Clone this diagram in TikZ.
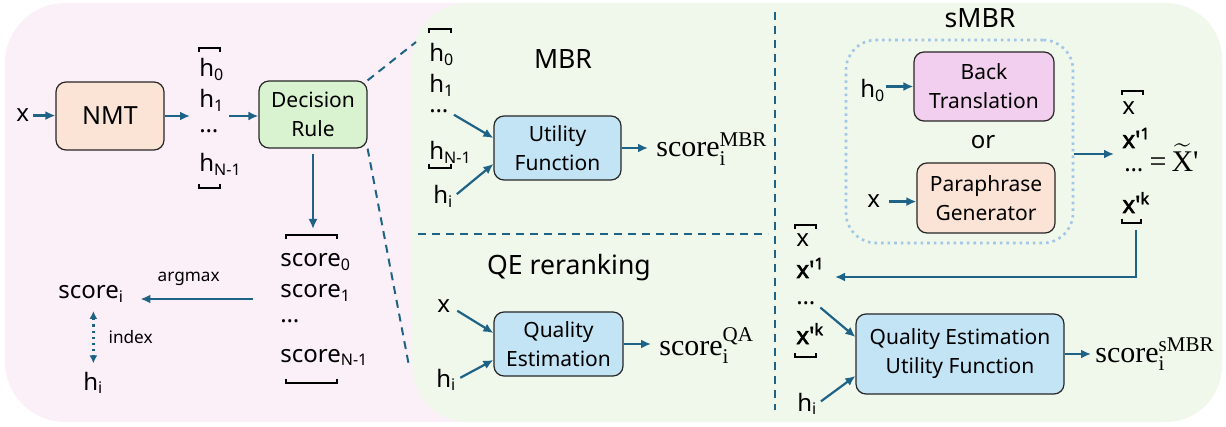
\documentclass[tikz,border=0pt]{standalone}
\usepackage{amsmath}
\usepackage[no-math]{fontspec}
\setmainfont{Noto Sans}[AutoFakeBold=2.5]
\newfontfamily\scorefont{Liberation Serif}
\usetikzlibrary{arrows.meta}

\definecolor{pinkpanel}{RGB}{252,240,248}
\definecolor{greenpanel}{RGB}{240,247,235}
\definecolor{linkblue}{RGB}{30,99,133}
\definecolor{peach}{RGB}{251,227,214}
\definecolor{mint}{RGB}{217,242,208}
\definecolor{skyblue}{RGB}{195,228,245}
\definecolor{orchid}{RGB}{242,207,238}
\definecolor{dotblue}{RGB}{160,198,232}

\newcommand\topbrk[3]{\draw[line width=0.9pt] (#1,#3+4) -- (#1,#3) -- (#2,#3) -- (#2,#3+4);}
\newcommand\botbrk[3]{\draw[line width=0.9pt] (#1,#3-4) -- (#1,#3) -- (#2,#3) -- (#2,#3-4);}
\newcommand\scoreof[1]{$\text{\scorefont score}_{\text{\scorefont i}}^{\text{\scorefont #1}}$}

\tikzset{
  flow/.style={-{Latex[length=5pt,width=4.5pt]}, color=linkblue, line width=1.1pt},
  blk/.style={draw=black!85, line width=0.6pt, rounded corners=5pt, align=center, inner sep=0pt, font=\fontsize{10.5}{14.5}\selectfont},
  lbl/.style={inner sep=0pt, font=\fontsize{12}{14}\selectfont},
  ttl/.style={inner sep=0pt, font=\fontsize{13.3}{16}\selectfont},
  sml/.style={inner sep=0pt, text=black, font=\fontsize{8.6}{10}\selectfont},
  scr/.style={inner sep=0pt, font=\fontsize{15}{17}\selectfont},
  split/.style={color=linkblue, line width=1pt, dash pattern=on 4pt off 3pt},
}

\begin{document}
\begin{tikzpicture}[x=0.5pt, y=-0.5pt]
			\useasboundingbox (0,0) rectangle (1226,427);
			
			% panels
			\fill[pinkpanel, rounded corners=30pt] (5,3) rectangle (600,422);
			\fill[greenpanel, rounded corners=28pt] (412,3) rectangle (1222,422);
			
			% NMT and decision rule
			\node[lbl, anchor=base west] (xsrc) at (16,122) {x};
			\node[blk, fill=peach, minimum width=54pt, minimum height=34pt, font=\fontsize{12.5}{14}\selectfont] (nmt) at (110,116) {NMT};
			\node[lbl, anchor=base west] (h0) at (199,77) {h\textsubscript{0}};
			\node[lbl, anchor=base west] (h1) at (199,108) {h\textsubscript{1}};
			\node[lbl, anchor=base west] (hdots) at (199,133) {…};
			\node[lbl, anchor=base west] (hlast) at (199,172) {h\textsubscript{N-1}};
			\topbrk{199}{220}{48}
			\botbrk{199}{220}{188}
			\node[blk, fill=mint, minimum width=54pt, minimum height=33.5pt] (rule) at (313,114.5) {Decision\\Rule};
			\coordinate (hout) at (229,116);
			\coordinate (sin) at (313,229);
			
			\draw[flow, shorten <=2pt] (xsrc.east) -- (xsrc.east -| nmt.west);
			\draw[flow, shorten >=4.5pt] (nmt.east) -- (nmt.east -| h1.west);
			\draw[flow] (hout) -- (hout -| rule.west);
			\draw[flow, shorten <=2.5pt] (rule.south) -- (sin);
			
			% scores
			\node[lbl, anchor=base west] (s0) at (280,267) {score\textsubscript{0}};
			\node[lbl, anchor=base west] (s1) at (280,298) {score\textsubscript{1}};
			\node[lbl, anchor=base west] (sdots) at (280,322) {…};
			\node[lbl, anchor=base west] (slast) at (280,362) {score\textsubscript{N-1}};
			\topbrk{286}{337}{235}
			\botbrk{286}{337}{383}
			\node[lbl, anchor=base west] (si) at (58,299) {score\textsubscript{i}};
			\node[lbl, anchor=base west] (hi) at (83,390) {h\textsubscript{i}};
			\coordinate (amx) at (253,299);
			\draw[flow, shorten >=8pt] (amx) -- (amx -| si.east) node[sml, midway, above=6pt] {argmax};
			\draw[flow, {Latex[length=4pt,width=4pt]}-{Latex[length=4pt,width=4pt]}, dotted, line width=1.2pt, shorten <=4pt, shorten >=4pt] (si.south -| hi) -- (hi.north) node[sml, midway, right=7pt] {index};
			
			% zoom lines
			\coordinate (zup) at (416,42);
			\coordinate (zdown) at (409,366);
			\draw[split] (rule.north east) -- (zup);
			\draw[split] (rule.south east) -- (zdown);
			
			\draw[split] (775,12) -- (775,410);
			\draw[split] (418,234) -- (768,234);
			
			% MBR
			\node[ttl] (mbrt) at (563,59) {MBR};
			\node[lbl, anchor=base west] (mh0) at (429,62) {h\textsubscript{0}};
			\node[lbl, anchor=base west] (mh1) at (429,93) {h\textsubscript{1}};
			\node[lbl, anchor=base west] (mdots) at (429,113) {…};
			\node[lbl, anchor=base west] (mhlast) at (429,160) {h\textsubscript{N-1}};
			\topbrk{429}{451}{29}
			\botbrk{429}{451}{168}
			\node[lbl, anchor=base west] (mhi) at (433,204) {h\textsubscript{i}};
			\node[blk, fill=skyblue, minimum width=63.5pt, minimum height=32pt] (util) at (557.5,148) {Utility\\Function};
			\node[scr, anchor=base west] (mscore) at (656,157) {\scoreof{MBR}};
			\draw[flow, shorten <=3pt] (mdots.east) -- ([yshift=5pt]util.west);
			\draw[flow, shorten <=2pt] (mhi.east) -- ([yshift=-8pt]util.west);
			\draw[flow, shorten >=4pt] (util.east) -- (util.east -| mscore.west);
			
			% QE reranking
			\node[ttl] (qet) at (569,268) {QE reranking};
			\node[lbl, anchor=base west] (qx) at (437,313) {x};
			\node[lbl, anchor=base west] (qhi) at (436,387) {h\textsubscript{i}};
			\node[blk, fill=skyblue, minimum width=64.5pt, minimum height=32pt] (qe) at (558.5,344) {Quality\\Estimation};
			\node[scr, anchor=base west] (qscore) at (659,355) {\scoreof{QA}};
			\draw[flow, shorten <=4pt] (qx.east) -- ([yshift=5.5pt]qe.west);
			\draw[flow, shorten <=2pt] (qhi.east) -- ([yshift=-8pt]qe.west);
			\draw[flow, shorten >=4pt] (qe.east) -- (qe.east -| qscore.west);
			
			% sMBR
			\node[ttl] (smbrt) at (980,18) {sMBR};
			\node[draw=dotblue, dotted, line width=1.3pt, rounded corners=15pt, minimum width=113.5pt, minimum height=101.5pt] (gen) at (959.5,141.5) {};
			\node[blk, fill=orchid, minimum width=70pt, minimum height=34.5pt] (bt) at (984,86.5) {Back\\Translation};
			\node[blk, fill=peach, minimum width=69pt, minimum height=35pt] (pg) at (986,198) {Paraphrase\\Generator};
			\node[lbl] (orw) at (983,142) {or};
			\node[lbl, anchor=base west] (bh0) at (860,98) {h\textsubscript{0}};
			\node[lbl, anchor=base west] (px) at (867,208) {x};
			\draw[flow] (bh0.east |- bt.west) -- (bt.west);
			\draw[flow, shorten <=4pt] (px.east) -- (px.east -| pg.west);
			
			\node[lbl, anchor=base west] (rx) at (1122,115) {x};
			\node[lbl, anchor=base west] (rx1) at (1122,148) {\textbf{x\textquotesingle\textsuperscript{1}}};
			\node[lbl, anchor=base west] (rdots) at (1124,172) {… {\fontsize{15}{17}\selectfont\scorefont =\,$\widetilde{\text{\scorefont X}}\text{\scorefont '}$}};
			\node[lbl, anchor=base west] (rxk) at (1122,213) {\textbf{x\textquotesingle\textsuperscript{k}}};
			\topbrk{1122}{1143}{91}
			\botbrk{1122}{1141}{223}
			\coordinate (xset) at (1114,154);
			\draw[flow] (gen.east |- xset) -- (xset);
			
			\node[lbl, anchor=base west] (lx) at (796,247) {x};
			\node[lbl, anchor=base west] (lx1) at (796,278) {\textbf{x\textquotesingle\textsuperscript{1}}};
			\node[lbl, anchor=base west] (ldots) at (796,305) {…};
			\node[lbl, anchor=base west] (lxk) at (796,344) {\textbf{x\textquotesingle\textsuperscript{k}}};
			\topbrk{795}{816}{225}
			\botbrk{795}{816}{357}
			\node[lbl, anchor=base west] (lhi) at (797,411) {h\textsubscript{i}};
			\coordinate (fb) at (1136,230);
			\coordinate (fbin) at (835,277);
			\draw[flow] (fb) |- (fbin);
			
			\node[blk, fill=skyblue, minimum width=104pt, minimum height=40pt] (qeu) at (960,354) {Quality Estimation\\Utility Function};
			\node[scr, anchor=base west] (sscore) at (1095,362) {\scoreof{sMBR}};
			\draw[flow, shorten <=3pt] (ldots.east) -- ([yshift=8.5pt]qeu.west);
			\draw[flow, shorten <=2pt] (lhi.east) -- ([yshift=-11pt]qeu.west);
			\draw[flow, shorten >=2pt] (qeu.east) -- (qeu.east -| sscore.west);
			
		\end{tikzpicture}
\end{document}
